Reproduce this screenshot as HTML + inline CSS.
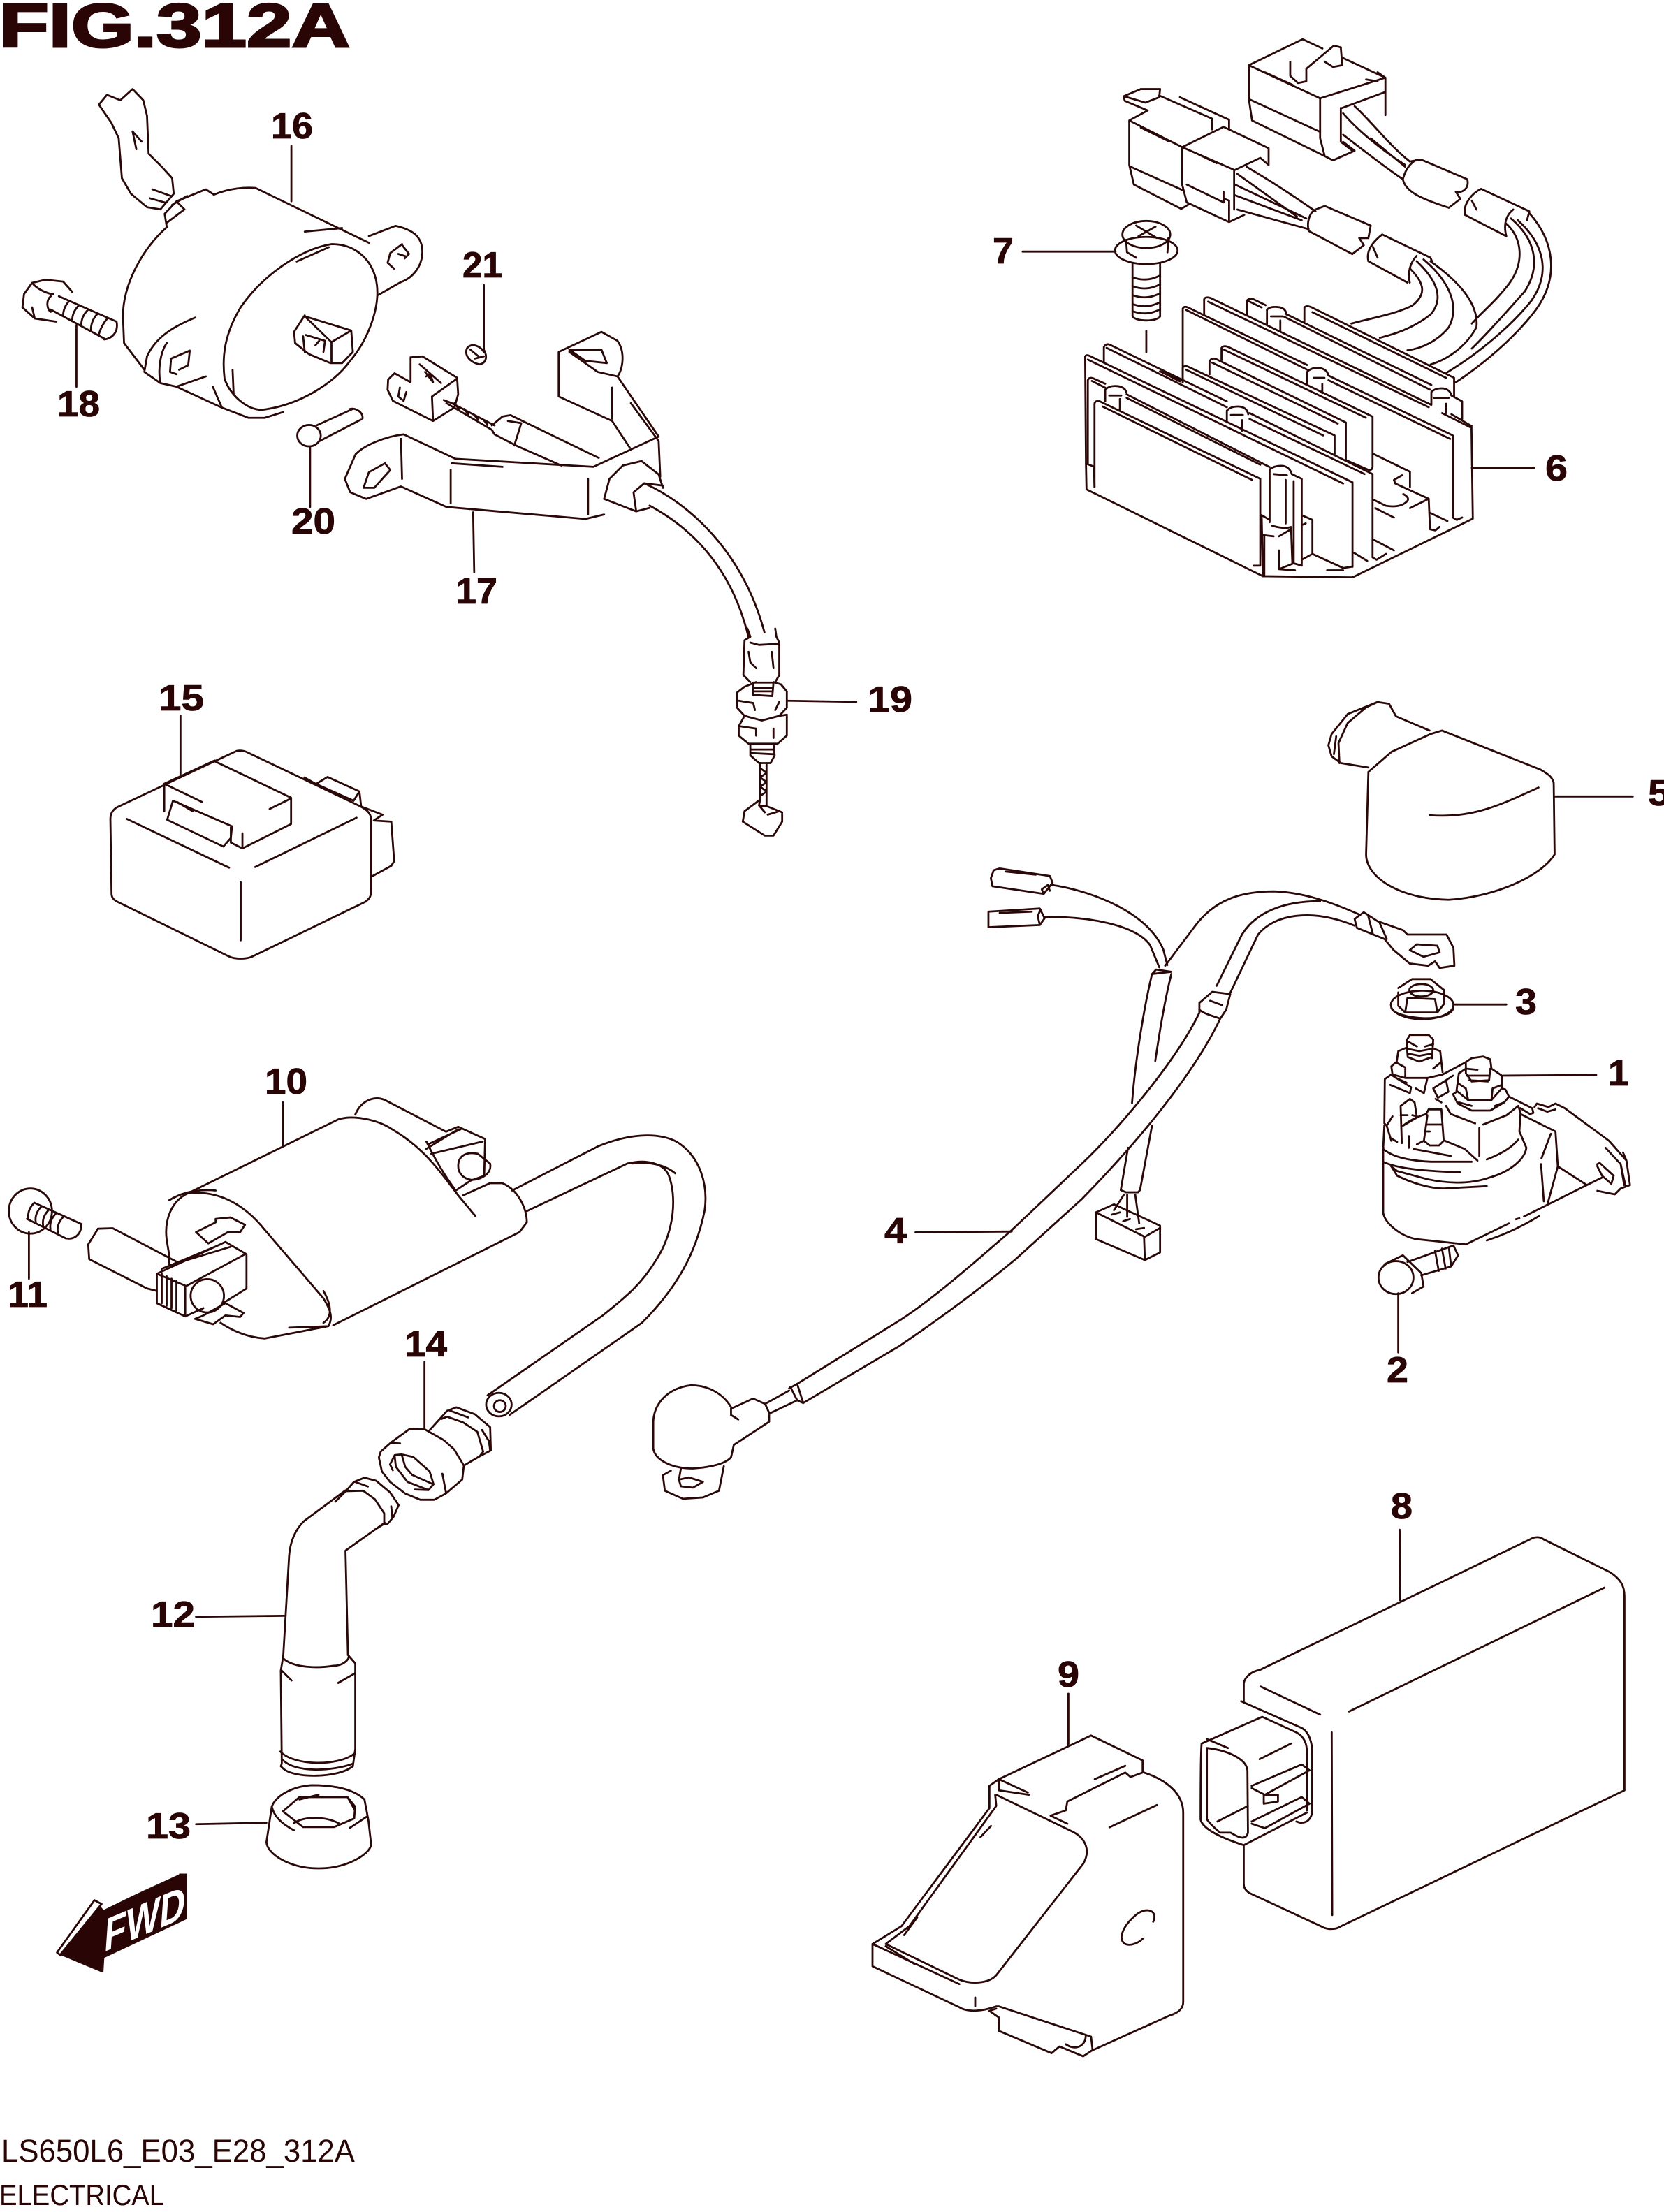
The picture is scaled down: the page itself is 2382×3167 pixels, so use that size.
<!DOCTYPE html>
<html><head><meta charset="utf-8"><title>FIG.312A</title>
<style>
html,body{margin:0;padding:0;background:#fff}
svg{display:block}
path,ellipse{vector-effect:non-scaling-stroke;fill:none;stroke:#2a0808;stroke-width:2.8;stroke-linejoin:round;stroke-linecap:round}
text{font-family:"Liberation Sans",sans-serif;fill:#2a0505}
.n{font-weight:700;font-size:52px;stroke:#2a0505;stroke-width:.8}
</style></head><body>
<svg width="2382" height="3167" xmlns="http://www.w3.org/2000/svg">
<rect width="2382" height="3167" fill="#fff"/>
<text x="-1" y="67" font-size="88" font-weight="700" textLength="502" lengthAdjust="spacingAndGlyphs" stroke="#2a0505" stroke-width="3">FIG.312A</text>
<text x="2" y="3095" font-size="45" textLength="506" lengthAdjust="spacingAndGlyphs">LS650L6_E03_E28_312A</text>
<text x="-1" y="3157" font-size="42" textLength="236" lengthAdjust="spacingAndGlyphs">ELECTRICAL</text>

<g class="labels">
<text class="n" x="388" y="198" textLength="60" lengthAdjust="spacingAndGlyphs">16</text>
<text class="n" x="82" y="596" textLength="61" lengthAdjust="spacingAndGlyphs">18</text>
<text class="n" x="662" y="397" textLength="57" lengthAdjust="spacingAndGlyphs">21</text>
<text class="n" x="417" y="764" textLength="63" lengthAdjust="spacingAndGlyphs">20</text>
<text class="n" x="652" y="864" textLength="60" lengthAdjust="spacingAndGlyphs">17</text>
<text class="n" x="227" y="1017" textLength="65" lengthAdjust="spacingAndGlyphs">15</text>
<text class="n" x="1242" y="1019" textLength="64" lengthAdjust="spacingAndGlyphs">19</text>
<text class="n" x="1421" y="377" textLength="30" lengthAdjust="spacingAndGlyphs">7</text>
<text class="n" x="2212" y="688" textLength="32" lengthAdjust="spacingAndGlyphs">6</text>
<text class="n" x="2359" y="1153" textLength="32" lengthAdjust="spacingAndGlyphs">5</text>
<text class="n" x="2169" y="1452" textLength="31" lengthAdjust="spacingAndGlyphs">3</text>
<text class="n" x="2302" y="1554" textLength="30" lengthAdjust="spacingAndGlyphs">1</text>
<text class="n" x="1985" y="1979" textLength="31" lengthAdjust="spacingAndGlyphs">2</text>
<text class="n" x="1266" y="1780" textLength="32" lengthAdjust="spacingAndGlyphs">4</text>
<text class="n" x="379" y="1566" textLength="61" lengthAdjust="spacingAndGlyphs">10</text>
<text class="n" x="11" y="1871" textLength="57" lengthAdjust="spacingAndGlyphs">11</text>
<text class="n" x="579" y="1942" textLength="61" lengthAdjust="spacingAndGlyphs">14</text>
<text class="n" x="216" y="2329" textLength="63" lengthAdjust="spacingAndGlyphs">12</text>
<text class="n" x="209" y="2632" textLength="64" lengthAdjust="spacingAndGlyphs">13</text>
<text class="n" x="1514" y="2415" textLength="31" lengthAdjust="spacingAndGlyphs">9</text>
<text class="n" x="1991" y="2174" textLength="31" lengthAdjust="spacingAndGlyphs">8</text>
</g>

<!-- Z1: 16,18,20,21,17 -->
<g transform="translate(0,0) scale(.7653,.6378)">
<path d="M270,460 L245,435 L228,400 L222,310 L208,275 L185,235 L200,213 L225,225 L248,200 L268,225 L275,260 L278,345 L303,375 L322,400 L325,435 L300,470 L275,465 Z"/>
<path d="M285,425 L320,440 M280,445 L310,455 M248,295 L265,318 M248,295 L255,335 M322,460 L350,440"/>
<path d="M312,510 C265,560 230,640 230,710 L232,770 L270,830 M400,437 C430,422 460,420 478,422 L690,545"/>
<path d="M690,530 L740,507 C770,515 790,530 790,565 C790,600 770,625 750,633 L708,662"/>
<path d="M752,548 L730,568 L725,590 L737,603 M752,550 L765,570 L757,580 M745,570 L758,575"/>
<path d="M620,548 C560,560 490,620 450,690 C420,750 415,800 420,850 C430,885 460,920 490,920 C560,910 625,860 655,810 C690,760 710,690 705,640 C700,590 670,548 620,548 Z"/>
<path d="M570,520 L640,512 M555,587 L615,555 M435,830 L437,885"/>
<path d="M365,713 C320,735 290,760 275,800 L270,835 L300,860 L330,868 L385,845 M300,860 C295,830 300,790 312,770"/>
<path d="M355,787 L320,805 L318,835 L330,840 M355,787 L352,820 L335,830"/>
<path d="M330,868 L415,915 L465,938 L495,938 L530,925 M398,868 L415,915"/>
<path d="M312,510 L308,480 L330,452 L385,425 L400,437 M330,452 L345,470 L312,500"/>
<path d="M570,708 L550,745 L552,770 L578,795 L618,815 L640,815 L660,790 L657,742 L620,768 L570,710 L657,742 M620,768 L620,815 M567,755 L570,790 M572,752 L608,765 L605,790 M590,775 L597,765"/>
<path d="M42,690 L45,660 L60,635 L85,628 L118,632 L135,655 M42,690 L65,715 L105,722 M60,635 C70,650 90,660 100,660 M65,715 L60,690"/>
<path d="M110,665 L218,722 M95,695 L195,760 M218,722 C222,745 210,760 195,762 M130,675 Q118,690 118,710 M148,685 Q135,700 135,720 M165,695 Q152,710 152,730 M182,705 Q170,720 170,742 M200,716 Q190,730 185,750 M95,665 C85,675 88,695 95,700"/>
<path d="M143,730 L143,868 M545,328 L545,452 M905,640 L905,785 M580,1005 L580,1138 M885,1150 L887,1285"/>
<path d="M905,790 C895,770 872,770 872,790 C872,805 885,815 897,818 C910,815 912,800 905,785 M880,785 L895,800 M888,805 L905,800"/>
<ellipse cx="578" cy="978" rx="22" ry="24"/>
<path d="M592,955 L660,918 M598,990 L675,942 M655,918 C665,915 680,925 678,940"/>
<path d="M770,802 L790,800 L855,848 L857,885 L850,915 L810,945 L735,900 L725,875 L726,852 L738,838 L768,858 L768,802 M810,945 L808,890 L855,850 M785,818 L825,860 M795,835 L810,858 L805,840 L797,845 M748,870 L745,890 L755,900 L760,880"/>
<path d="M830,898 L845,905 L925,955 M835,905 L920,965 M850,905 L858,918 M868,918 L876,930 M886,930 L894,942 M904,942 L912,954"/>
<path d="M920,955 L940,935 L955,932 L1120,1028 M920,965 L925,975 L965,1000 L1050,1045 M950,945 L975,950 L962,1000"/>
<path d="M852,1030 L755,975 C720,980 680,1000 665,1020 L645,1075 L655,1105 L685,1120 L750,1092 L835,1138 L1095,1165 L1130,1155 M750,985 L752,1075"/>
<path d="M852,1030 L1110,1048 L1232,980 L1155,845 C1165,830 1170,790 1155,765 L1125,745 L1045,790 L1045,890 L1145,945 L1178,1005"/>
<path d="M845,1040 L940,1048 M843,1055 L843,1130 M1100,1075 L1100,1155 M1065,790 L1118,835 L1155,845 M1145,870 L1145,940 M1180,905 L1232,990 L1235,1070"/>
<path d="M720,1040 L690,1060 L680,1095 L700,1095 L730,1055 Z M1065,785 L1125,785 L1135,815 L1095,810 Z"/>
<path d="M1130,1120 L1140,1075 L1165,1045 L1200,1035 L1232,1065 L1240,1095 M1130,1120 L1190,1148 L1215,1140 M1190,1148 L1185,1105 L1205,1085 L1240,1090"/>
<path d="M1205,1085 C1290,1130 1390,1240 1430,1420 M1215,1135 C1300,1190 1370,1280 1400,1430"/>
</g>

<!-- Z4: 15, 19 -->
<g transform="translate(100,900) scale(.829,.333)">
<path d="M1170,0 L1175,35 M1218,0 L1220,35 M1175,35 L1165,50 L1163,200 L1175,230 M1220,35 L1225,60 L1225,200 L1218,230 M1175,60 L1190,70 L1225,65 M1172,100 L1175,145 L1185,170 M1212,100 L1215,170"/>
<path d="M1185,230 L1165,250 L1152,275 L1152,340 L1165,375 L1155,420 L1155,460 L1172,495 L1222,495 L1238,460 L1238,370 L1225,375 L1238,340 L1238,270 L1228,240 L1215,230 M1180,232 L1215,232 L1213,290 L1180,285 Z M1180,255 L1213,255 M1180,270 L1213,270 M1165,375 L1195,395 L1225,375 M1155,310 L1180,320 L1183,350 M1225,315 L1218,350 M1158,420 L1185,430 L1185,460 M1215,430 L1215,470"/>
<path d="M1175,495 L1175,545 L1190,578 L1210,578 L1217,545 L1215,495 M1175,520 L1215,520 M1175,535 L1215,540"/>
<path d="M1192,578 L1192,735 M1203,578 L1203,760 M1192,600 L1203,620 L1192,640 L1203,660 L1192,680 L1203,700 L1192,720"/>
<path d="M1192,735 L1165,785 L1162,830 L1200,890 L1215,890 L1230,830 L1230,790 L1205,765 L1190,760 L1192,735 M1190,760 L1200,790 M1225,785 L1205,800"/>
<path d="M288,526 L250,570 L80,770 C72,785 70,800 70,820 L72,1140 C72,1160 78,1170 85,1178 L275,1410 C285,1422 305,1422 315,1410 L510,1175 C518,1160 520,1150 520,1130 L520,820 C520,790 510,775 500,762 L305,530 C300,525 295,522 288,526"/>
<path d="M98,818 L275,1028 M495,813 L320,1025 M295,1090 L295,1340 M250,570 L382,727 L382,840 L298,945 L278,920 M163,667 L250,567 M163,667 L228,745 M163,667 L163,785 M345,775 L382,730 M178,740 L280,850 L278,900 L265,937 L168,822 L178,740 M185,745 L212,785 M298,880 L298,945 M278,855 L278,920"/>
<path d="M405,640 L425,668 L445,638 L500,700 L503,765 L540,800 L525,825 L555,830 L560,1000 L555,1020 L522,1065 M425,668 L490,740 L500,700"/>
<path d="M191,375 L191,635 M1238,310 L1358,315"/>
</g>

<!-- Z2: 6 harness, 7 -->
<g transform="translate(1350,50) scale(.6582,.5102)">
<path d="M665,85 L782,12 L825,38 M870,65 L962,120 M665,85 L665,180 L672,240 L830,340 L848,352 L895,325 L870,300 M665,85 L820,178 L962,120 L945,105 M665,180 L820,272 M820,178 L820,290 L830,340 M868,205 L962,160 M865,205 L865,300 L890,325 M700,105 L760,140 M962,120 L962,225 M945,130 L920,125"/>
<path d="M755,75 L755,115 L772,135 L790,130 L790,95 L850,30 L865,35 L868,85 L848,90 L830,75"/>
<path d="M895,200 C930,240 970,310 1015,355 M870,220 C900,265 950,320 1005,365 M870,280 C910,320 960,370 1000,405 M930,290 L1005,370"/>
<path d="M1015,355 L1040,350 L1140,405 M1000,405 C1005,380 1015,360 1030,350 M1000,405 C1005,440 1040,460 1100,485 M1140,405 C1145,430 1130,445 1115,440 L1125,460 L1100,485"/>
<path d="M1170,432 L1275,495 L1270,520 M1170,432 C1150,445 1130,475 1135,505 L1225,565 M1150,465 L1160,490 M1240,490 C1225,505 1218,530 1225,565"/>
<path d="M1225,530 C1260,570 1265,640 1230,700 C1200,750 1170,780 1150,810 M1235,515 C1290,575 1300,650 1265,720 C1230,770 1190,830 1150,880 M1275,500 C1330,580 1340,680 1290,770 C1250,840 1180,920 1115,975 M1250,520 C1310,590 1320,670 1280,745 C1240,810 1170,890 1095,948"/>
<path d="M393,172 L395,185 L445,212 L405,240 L405,365 L415,420 L518,488 L535,475 M393,172 L430,152 L472,152 L470,175 L440,190 L393,172 M515,175 L622,238 L622,265 M470,170 L585,235 L585,265 M405,240 L520,315 M430,260 L490,298 M408,370 L520,435"/>
<path d="M520,315 L520,420 L530,470 L622,525 L655,505 M520,315 L610,258 L708,318 L708,365 L690,345 L633,380 L633,490 M520,315 L632,378 M555,335 L595,360 M530,420 L610,470 L612,460 L622,465 L622,525 M610,470 L610,440"/>
<path d="M660,370 C700,400 760,450 810,495 M640,390 L770,510 M635,420 L790,515 M635,450 L780,520 M640,490 L795,545"/>
<path d="M810,490 L830,480 L930,535 L925,570 L905,570 L915,590 L890,615 L795,550 C790,520 800,495 810,490"/>
<path d="M955,560 L1060,625 L1065,640 M955,560 C930,585 920,610 925,635 L1010,695 M935,595 L945,625 M1030,620 C1015,640 1010,670 1015,695"/>
<path d="M1015,655 C1050,700 1050,730 1020,760 C980,785 930,795 888,810 M1030,635 C1075,690 1090,740 1060,785 C1020,825 980,840 950,850 M1045,630 C1100,690 1125,760 1100,820 C1075,860 1040,880 1010,885 M1060,635 C1130,700 1165,760 1160,820 C1140,870 1100,910 1060,925"/>
<ellipse cx="442" cy="605" rx="68" ry="38"/>
<ellipse cx="442" cy="560" rx="52" ry="38"/>
<path d="M420,535 L465,570 M425,565 L462,538 M398,575 L400,610 L420,625 M490,570 L488,610"/>
<path d="M412,640 L412,790 C420,805 465,805 472,790 L472,640 M412,680 Q442,695 472,675 M412,705 Q442,720 472,700 M412,730 Q442,745 472,725 M412,755 Q442,770 472,750 M412,775 Q442,790 472,770"/>
<path d="M442,830 L442,890 M173,608 L375,608 M1150,1215 L1285,1215"/>
</g>

<!-- Z9: 6 body -->
<g transform="translate(1540,410) scale(.3827,.336)">
<path d="M35,300 Q38,288 55,298 L1035,835 L1035,1195 M45,312 L1000,840 M35,300 L38,750 L40,865 L700,1235 L1035,1240 L1485,990 L1480,595"/>
<path d="M70,855 L70,500 Q72,485 90,490 L690,820 L690,1190 L665,1190 M100,512 L660,825 M700,1235 L695,975"/>
<path d="M45,755 L45,400 Q50,385 65,392 L110,415 M190,460 L725,770 M60,403 L110,432 M190,475 L690,760 M38,755 L68,768 L70,855"/>
<path d="M105,320 L105,258 Q115,240 130,250 L565,490 M650,540 L1110,800 L1110,1155 L1125,1165 L1160,1140 M115,262 L565,515 M650,565 L1080,800"/>
<path d="M545,315 L545,262 Q552,250 570,258 L1110,555 L1110,770 Q1108,785 1095,782 L1010,740 M555,270 L1085,560"/>
<path d="M500,375 L500,320 Q508,302 525,310 L1010,580 L1010,735 M510,325 L980,585"/>
<path d="M400,410 L400,345 Q410,335 425,345 L968,635 L968,715 M412,355 L925,635"/>
<path d="M400,410 L400,95 Q405,82 420,90 L865,335 M945,380 L1410,635 L1410,985 L1425,995 L1445,985 M412,100 L865,355 M945,400 L1400,650"/>
<path d="M480,120 L480,55 Q485,42 505,50 L1330,505 M1405,545 L1480,595 M495,65 L1320,515 M1370,540 L1475,600"/>
<path d="M640,120 L640,60 Q650,48 665,55 L710,80 M645,62 L695,90 M790,120 L1330,420 M1405,465 L1445,490 L1445,565 M780,130 L1325,440"/>
<path d="M855,150 L855,90 Q862,80 880,88 L1415,390 L1415,470 M885,110 L1385,390"/>
<path d="M715,100 Q725,85 755,88 Q785,90 788,120 M715,100 L715,160 M730,128 L775,128 M765,145 L765,190"/>
<path d="M865,415 L865,365 Q880,345 910,348 Q940,352 945,380 M890,390 L930,390 M922,415 L922,455"/>
<path d="M1330,500 L1330,450 Q1345,432 1375,435 Q1400,440 1405,465 M1340,475 L1395,475 M1385,500 L1385,540"/>
<path d="M565,580 L565,530 Q580,510 610,512 Q640,515 645,545 M580,548 L625,548 M622,570 L622,615"/>
<path d="M110,490 L110,440 Q125,422 155,425 Q185,428 190,455 M125,465 L170,465 M165,480 L165,525"/>
<path d="M725,1005 L725,780 Q745,762 775,765 Q800,770 808,800 L845,820 L845,1190 M740,800 L790,805 M785,825 L785,1010 M815,830 L815,1180 L845,1190 M735,1020 Q780,1035 805,1025 L810,1180 M695,975 L725,995 M700,1060 L740,1065 M760,1065 L805,1035 M705,1065 L705,1235 M760,1125 L760,1205 L815,1180 M760,1205 L820,1210 M845,975 L885,995 L885,1140 L845,1165 M885,1140 L1000,1200 L1030,1195 M940,1210 L1000,1210 M850,1015 L860,1010"/>
<path d="M1115,715 L1250,790 L1250,855 M1220,805 L1190,825 L1195,840 L1320,905 L1325,1035 L1345,1040 L1360,1025 M1225,885 Q1250,900 1240,915 Q1215,945 1160,935 L1115,910 M1120,945 L1190,985 M1250,945 L1320,905 M1325,965 L1390,1000 M1040,1135 L1090,1170 M1115,1080 L1190,1125"/>
<path d="M320,355 L395,400 M315,362 L390,405"/>
</g>

<!-- Z3: 5,3,2 -->
<g transform="translate(1350,1000) scale(.6582,.6378)">
<path d="M925,165 L920,350 C920,400 990,450 1100,452 C1200,445 1300,400 1330,350 L1328,190 C1325,175 1315,170 1300,160 L1085,72 L1060,80 L975,120 L925,165 Z M1058,262 C1150,270 1210,240 1295,200"/>
<path d="M1058,72 L985,40 L970,12 L945,8 L880,35 L845,80 L838,105 L845,130 L865,145 L925,155 M945,8 L920,20 L880,55 L860,100 L862,145 M850,125 L855,85"/>
<path d="M1330,220 L1500,220 M1110,687 L1225,687 M990,1335 L990,1468"/>
<path d="M483,600 L545,515 C590,450 650,433 720,433 C780,435 840,455 905,485 M595,645 L650,530 C680,480 740,455 820,455 M625,660 L685,530 C720,485 800,470 895,510"/>
<path d="M895,495 L915,480 L945,500 L1000,520 L1010,530 L1095,530 L1110,560 L1112,600 L1080,605 L1070,590 L1055,600 L1015,595 L980,565 L960,540 L900,515 Z M1015,565 L1030,552 L1075,555 L1080,570 L1045,580 Z M925,490 L935,530 M950,505 L965,540"/>
<ellipse cx="1042" cy="688" rx="68" ry="32"/>
<ellipse cx="1040" cy="655" rx="26" ry="14"/>
<path d="M975,695 C985,720 1100,730 1110,695 M990,660 L990,690 L1005,705 L1075,705 L1090,685 L1090,655 L1060,630 L1020,630 L990,650 M1005,705 L1010,672 L1070,675 L1075,705"/>
<ellipse cx="985" cy="1300" rx="38" ry="37"/>
<path d="M960,1270 L1000,1250 L1040,1290 L1045,1320 L1020,1335 M1010,1265 L1110,1228 L1120,1250 L1105,1275 L1040,1295 M1070,1240 L1078,1285 M1085,1235 L1093,1280 M1100,1232 L1105,1275"/>
</g>

<!-- Z11: 1 -->
<g transform="translate(1950,1480) scale(.3333,.3333)">
<path d="M190,30 L205,5 L285,5 L305,25 L300,105 M190,30 L195,95 M190,30 L235,55 M270,55 L305,45 M195,65 L245,75 L300,65 M195,85 L245,95 L300,85 M195,100 L245,120 L300,100"/>
<path d="M190,60 L155,75 L148,120 L125,140 L130,175 L185,190 L280,190 M310,65 L335,75 L345,165 M148,125 L185,145 L185,185 M335,125 L305,150"/>
<path d="M125,175 L97,195 L95,385 L105,395 M130,180 L210,230 L205,255 L120,220 M145,190 L190,210 M280,190 L265,255 L230,235"/>
<path d="M280,190 L345,175 L440,125 L470,105 L520,98 L550,110 L555,150 L600,180 L600,235 L615,240 L630,270 L730,320 L735,340 L720,345 L680,320"/>
<path d="M445,125 L445,170 L470,205 L545,200 L550,150 M445,150 L495,155 M450,180 L545,180 M460,200 L540,205"/>
<path d="M445,150 L415,170 L405,245 L455,285 L555,285 L595,240 M415,215 L445,235 L455,285 M555,285 L560,235 L600,220 M405,250 L390,260 L410,300 L470,330 L550,330 L610,295 L630,270 M415,295 L470,310 M570,310 L610,295"/>
<path d="M305,235 L360,200 L370,250 L325,275 Z M315,280 L340,295 M390,180 L305,235"/>
<path d="M360,310 L380,345 L485,385 M520,390 L620,350 L670,310 L680,340 L675,420 L705,490 C700,530 650,590 540,620 C450,650 350,640 280,625 L150,590 L125,570 M503,405 L503,525 M535,540 C600,515 640,490 670,455"/>
<path d="M95,395 L90,495 L90,770 C100,820 170,870 230,882 L445,905 L630,815 M695,785 L795,735 L965,650 L1030,618 M660,797 L675,793 M535,888 C620,860 700,820 760,783"/>
<path d="M90,495 C130,530 200,545 295,550 L470,550 M90,550 C130,570 220,590 420,595 M125,570 L150,610 C210,640 290,665 350,665 L535,655"/>
<path d="M165,310 L205,280 L225,295 L235,360 L175,395 M165,310 L170,470 M165,350 L195,350 M215,350 L235,355 M125,450 L150,465 M130,355 L105,395 L125,460 M200,440 L200,490"/>
<path d="M275,345 L285,325 L340,325 L350,460 L330,480 L290,480 L265,460 L280,350 M280,390 L340,390 M270,420 L290,420 M235,475 L265,460 M355,460 L440,495 L495,545 M220,495 L380,525 M175,395 C220,360 260,350 275,345"/>
<path d="M740,315 L750,300 L800,315 L830,300 L870,320 L1060,460 L1135,545 L1150,650 L1110,665 L1085,690 L1010,675 M1045,490 L1110,560 L1125,650 M1110,560 L1130,650 M1120,510 L1135,545 M1010,560 L1020,555 L1080,610 L1070,645 L1030,610 L1010,570 Z"/>
<path d="M755,320 L795,335 L830,325 M680,345 L830,420 L840,570 L795,735 M810,430 L770,535 M768,560 L780,720 M840,570 L965,650"/>
<path d="M605,180 L1005,177"/>
</g>

<!-- Z8: 4 -->
<g transform="translate(880,1200) scale(.574,.6378)">
<path d="M945,72 L938,90 L942,108 L1070,125 L1092,100 L1085,85 L960,68 Z M1070,125 L1065,115 L1080,105 L1085,118 M975,75 L1050,82"/>
<path d="M932,165 L932,200 L1060,195 L1072,180 L1060,158 Z M960,168 L1040,165 M1060,195 L1055,175 L1062,160"/>
<path d="M1090,105 C1200,120 1330,170 1368,250 L1378,285 M1072,177 C1180,175 1300,195 1335,240 L1358,290"/>
<path d="M1340,305 L1388,300 L1350,295 Z M1340,305 C1325,360 1300,480 1290,595 M1388,305 C1370,370 1358,440 1348,500 M1340,645 L1310,790 M1280,695 L1262,790 M1262,790 L1275,795 L1305,795 L1310,790 M1270,800 L1245,835 M1278,800 L1278,850 M1298,800 L1308,865"/>
<path d="M1200,840 L1245,822 L1360,870 L1360,930 L1322,947 L1200,900 Z M1200,840 L1322,895 L1360,875 M1320,895 L1322,945 M1240,845 L1260,840 M1268,860 L1285,855 M1300,878 L1320,875"/>
<path d="M1458,392 C1400,500 1260,650 1160,735 L990,880 C900,950 800,1030 715,1080 L455,1225 M1510,405 C1460,500 1350,640 1165,810 L1000,945 C900,1020 800,1085 710,1140 L470,1268"/>
<path d="M1458,392 L1458,370 L1490,345 L1535,350 L1525,385 L1510,405 C1495,400 1470,395 1458,385 M1485,365 L1515,375"/>
<path d="M435,1235 L455,1225 L470,1268 L455,1262 L438,1232"/>
<path d="M385,1290 L375,1270 L345,1258 L292,1280 C270,1245 230,1228 190,1228 C130,1235 98,1270 96,1310 L96,1370 C100,1395 140,1415 195,1415 C240,1412 275,1405 290,1390 L297,1362 L385,1310 Z M290,1280 L290,1295 L308,1305 M375,1270 L435,1240 M385,1292 L455,1262"/>
<path d="M120,1430 L125,1465 L170,1483 L220,1480 L260,1465 L272,1410 M120,1430 L140,1420 M160,1440 L185,1435 L220,1445 L195,1458 L165,1455 Z M160,1440 L165,1415"/>
<path d="M750,885 L990,883"/>
</g>

<!-- Z5: 10,11,12 -->
<g transform="translate(0,1480) scale(.7015,.7015)">
<ellipse cx="62" cy="362" rx="44" ry="46"/>
<path d="M70,345 L165,388 M55,378 L135,418 M165,388 C168,405 155,420 138,418 M70,345 Q55,360 58,378 M85,352 Q70,367 73,385 M100,359 Q85,374 88,392 M115,366 Q100,381 103,399 M130,373 Q115,388 118,406 M59,405 L59,500"/>
<path d="M385,325 L690,175 C720,165 770,175 800,195 C860,230 890,270 935,330 L970,372 M1075,385 L1060,405 L680,595"/>
<path d="M385,325 C350,340 335,380 340,420 L345,450 M345,340 C380,318 420,318 440,320 M385,325 C450,320 500,350 540,400 L600,470 L660,540 C675,565 680,580 670,597 L590,600 M660,525 C680,560 675,580 660,590 M450,590 C480,610 510,620 540,622 L670,597"/>
<path d="M945,330 L1000,305 L1025,305 C1060,320 1075,360 1075,385"/>
<path d="M1045,320 L1220,230 C1280,205 1340,200 1380,220 C1430,250 1445,310 1438,360 C1420,450 1380,520 1310,590 L1040,778 M1075,362 L1280,265 C1320,255 1355,265 1365,290 C1380,330 1378,400 1340,460 C1310,510 1280,535 1230,575 L995,738 M1290,265 C1330,260 1360,270 1378,285"/>
<ellipse cx="1018" cy="757" rx="26" ry="24"/>
<ellipse cx="1020" cy="760" rx="12" ry="12"/>
<path d="M725,165 C735,140 760,125 785,135 L910,200 L935,190 L990,215 L988,290 L960,300 L930,320 C900,280 880,240 870,220 M870,235 L935,195 M875,225 L940,195 M880,245 L985,220 M935,270 C935,250 950,240 975,245 L1000,265 C1005,285 980,300 960,298 C945,295 935,285 935,270"/>
<path d="M320,490 L460,425 L503,450 L503,520 L455,550 M320,490 L320,550 L378,577 L415,560 M320,490 L380,515 L500,450 M330,480 L450,430 M345,473 L470,435 M330,490 L330,550 M340,495 L340,555 M350,500 L350,560 M360,505 L360,565 M378,515 L378,577"/>
<ellipse cx="423" cy="535" rx="34" ry="34"/>
<path d="M200,398 L180,430 L182,460 L300,520 L320,525 M200,398 L230,397 L360,465 M345,450 L345,470"/>
<path d="M400,405 L440,385 L440,378 L470,375 L500,390 L490,405 L465,405 L425,428 Z M415,575 L460,550 L497,570 L490,578 L460,575 L435,593 L398,582 Z"/>
<path d="M577,140 L577,230 M400,1190 L580,1188"/>
<path d="M705,932 L620,995 C600,1015 592,1040 590,1065 L578,1270 M785,998 L705,1055 L710,1268"/>
<path d="M578,1270 L573,1300 L575,1490 L573,1495 L578,1500 C600,1520 690,1520 720,1495 L725,1460 L725,1285 L710,1268 M578,1275 C600,1295 650,1295 680,1290 C700,1290 712,1278 712,1270 M575,1300 L595,1320 M725,1305 L690,1325 M572,1465 C600,1495 690,1495 722,1470 M575,1480 C600,1510 680,1505 720,1490"/>
</g>

<!-- Z10: 14 nut -->
<g transform="translate(480,1950) scale(.3333,.3333)">
<path d="M383,0 L383,288"/>
<path d="M240,345 L320,287 L385,290 L465,335 L510,375 L552,445 L545,505 L475,565 L425,592 L365,592 L300,565 L235,515 L200,470 L187,410 L195,385 L240,345 M240,348 L278,350"/>
<path d="M285,397 L335,408 L405,470 L422,525 L400,550 L340,548 M285,397 L255,400 L235,440 L247,465 M255,405 L260,450 L310,515 L400,550 M285,397 L300,450 L330,485 L420,525 M460,480 L475,560"/>
<path d="M405,293 L480,210 L520,195 L600,225 L665,280 L668,380 L620,405 L552,445 M455,245 L480,235 L550,260 L610,300 L635,385 L620,405 M490,208 L570,238 M630,292 L660,340 L665,380"/>
<path d="M0,600 L45,555 L80,515 L125,497 L175,510 L235,560 L272,615 L250,665 L225,695 L210,695 L170,720 M45,555 L120,553 L170,590 L210,650 L210,695 M85,515 L140,535 M240,620 L245,670"/>
</g>

<!-- Z6: 13, FWD -->
<g transform="translate(0,2100) scale(.6378,.6805)">
<path d="M610,715 L598,790 C600,815 650,845 715,845 C780,845 830,815 833,795 L827,745 L818,700 C790,675 740,670 700,670 C660,672 620,690 610,715 Z M635,725 L672,695 L780,695 L797,715 L795,740 L750,758 L680,758 Z M672,700 L715,690 M610,715 C615,735 630,750 660,765 M825,735 L785,760 M660,750 C680,735 730,735 760,750 M780,695 L795,720"/>
<path d="M440,752 L598,749"/>
<path style="fill:#2a0505" d="M135,1025 L218,920 L232,935 L400,858 L418,858 L418,950 L232,1032 L230,1062 Z"/>
<path style="fill:#fff;stroke:#2a0505" d="M128,1022 L212,912 L228,920 L135,1027 Z"/>
<path style="stroke:#fff;stroke-width:3" d="M232,928 L400,856"/>
</g>
<text transform="translate(148,2795) skewY(-23) skewX(-4)" x="0" y="0" font-size="66" font-weight="700" style="fill:#fff" textLength="116" lengthAdjust="spacingAndGlyphs">FWD</text>

<!-- Z7: 8, 9 -->
<g transform="translate(1200,2120) scale(.7538,.6378)">
<path d="M800,425 L1320,128 C1330,125 1335,128 1340,132 L1465,205 C1485,220 1493,235 1493,260 L1493,695 L955,1000 C945,1008 930,1008 920,1002 L780,925 C772,918 770,912 770,905 L770,820 M770,495 L770,455 C772,440 785,428 800,425 M970,518 L1455,240 M802,462 L915,525 M937,565 L938,975"/>
<path d="M765,495 L880,555 C895,565 900,590 900,610 L900,745 C895,770 880,770 870,765 M690,590 L805,530 L870,565 C885,575 890,590 890,610 L890,740 M690,590 C688,610 688,700 688,760 C690,775 710,795 770,818 L890,745"/>
<path d="M700,600 C740,605 775,625 777,650 L778,790 C775,805 765,805 745,790 L725,790 C705,770 700,760 700,760 L700,600 M800,625 L860,590 M700,580 L740,600 M720,765 L778,730 M785,685 L880,637 L895,650 L810,705 L785,690 M785,765 L880,710 L895,725 L810,780 L785,770 M808,705 L835,705 L835,720 L808,725 Z"/>
<path d="M305,670 L480,572 L578,628 L578,655 L555,665 L545,655 L435,720 L432,740 L403,752 L435,770 M305,670 L305,695 L362,705 M305,670 L360,700 M487,670 L545,640 M287,685 L305,670"/>
<path d="M287,685 L287,735 L120,1000 L65,1040 L65,1090 L230,1182 C240,1190 265,1195 300,1180 L305,1180 L480,1248 L483,1278 L465,1292 L420,1270 L405,1285 L305,1235 L305,1205 L287,1190 L300,1185"/>
<path d="M580,655 C620,670 655,700 655,745 L655,1170 C655,1185 645,1195 630,1200 L480,1280"/>
<path d="M298,705 L300,730 L135,1000 L90,1040 L230,1120 C250,1130 285,1130 300,1110 L465,860 C480,830 470,800 440,785 L300,705 M65,1040 L230,1130 M90,1045 L145,1085 M150,980 L125,1020 M270,800 L290,775 M515,778 L605,728 M260,1160 L260,1180"/>
<path d="M598,990 C608,965 585,955 565,975 C540,1000 530,1030 545,1040 C555,1045 570,1038 578,1028 M432,1265 C450,1280 470,1270 470,1245"/>
<path d="M437,478 L437,595 M1066,110 L1067,268"/>
</g>
</svg>
</body></html>
